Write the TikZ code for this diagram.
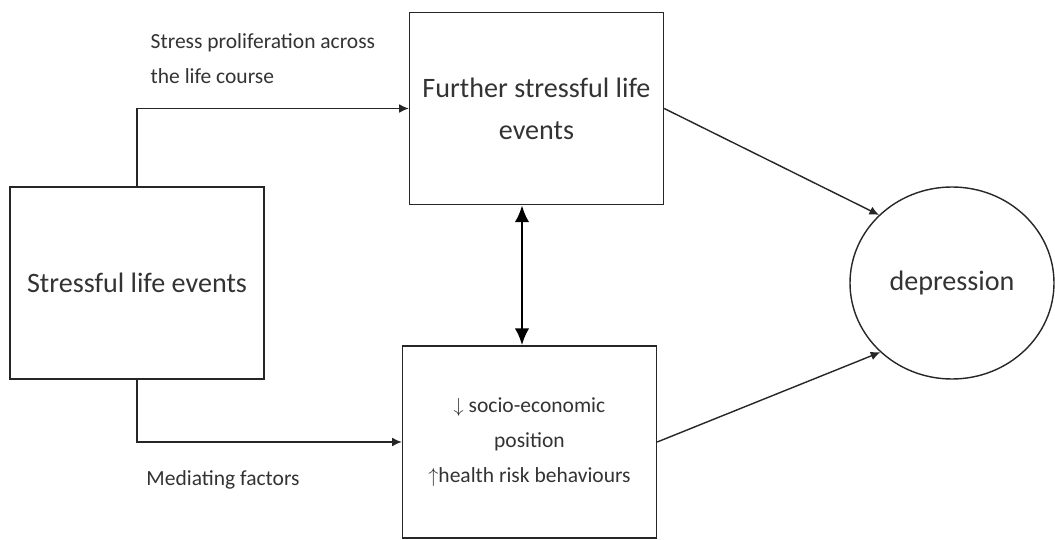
\documentclass[tikz,border=0pt]{standalone}
\usepackage{fontspec}
\setmainfont{Carlito}
\usepackage{tikz}
\usetikzlibrary{arrows,arrows.meta,calc,positioning,shapes.geometric}

\begin{document}
\begin{tikzpicture}[>={Latex[length=2.4mm,width=2.2mm]}, line width=1pt, draw=black!85, text=black!80,
	box/.style={draw, minimum width=6.35cm, minimum height=4.8cm, align=center, font=\fontsize{20}{30}\selectfont},
	smalltext/.style={align=center, font=\fontsize{15.3}{25}\selectfont}]
			\useasboundingbox (0,0) rectangle (26.375,13.475);
			\node[box] (sle) at (3.425,6.4) {Stressful life events};
			\node[box] (further) at (13.4125,10.7625) {Further stressful life\\events};
			\node[box, smalltext] (mediators) at (13.2375,2.425) {$\downarrow$ socio-economic\\position\\$\uparrow$health risk behaviours};
			\node[draw, ellipse, minimum width=5.1cm, minimum height=4.8cm, font=\fontsize{20}{30}\selectfont] (dep) at (23.8,6.4) {depression};
			\node[smalltext, anchor=west, align=left, inner sep=0pt] (prolif) at (3.75,12.0) {Stress proliferation across\\the life course};
			\node[smalltext] (mediating) at (5.575,1.475) {Mediating factors};
			\coordinate (link) at (13.05,6.6);
			\draw[->] (sle.north) |- (further.west);
			\draw[->] (sle.south) |- (mediators.west);
			\draw[->] (further.east) -- (dep.137);
			\draw[->] (mediators.east) -- (dep.224);
			\draw[{Latex[length=4.2mm,width=3.6mm]}-{Latex[length=4.2mm,width=3.6mm]}, line width=2pt, draw=black] (further.south -| link) -- (mediators.north -| link);
		\end{tikzpicture}
\end{document}
